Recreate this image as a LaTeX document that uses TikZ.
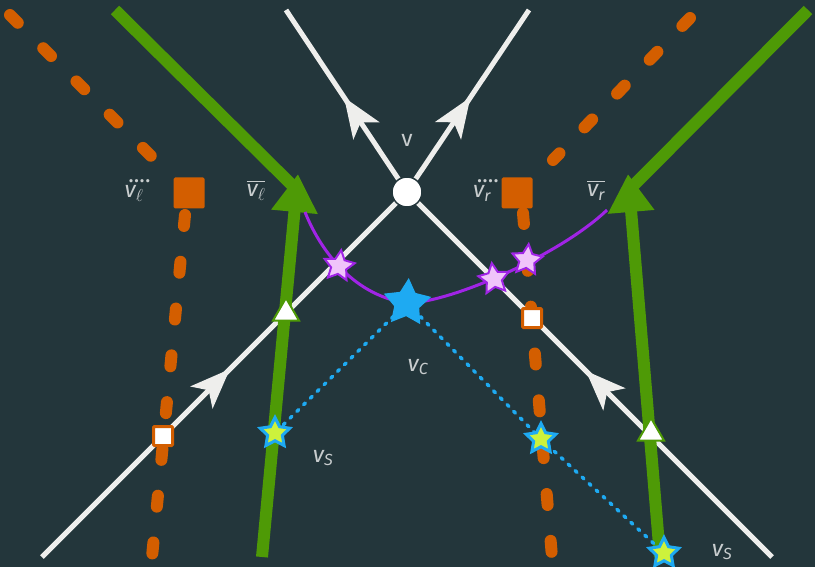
\documentclass[tikz,border=0pt]{standalone}
\usepackage{amsmath}
\usepackage{fontspec}
\setmainfont{Fira Sans}
\usetikzlibrary{arrows.meta, shapes.geometric, decorations.markings}
\definecolor{bgdark}{RGB}{35, 54, 59}
\definecolor{linewhite}{RGB}{238, 238, 236}
\definecolor{leafgreen}{RGB}{78, 154, 6}
\definecolor{burntorange}{RGB}{211, 94, 0}
\definecolor{violet}{RGB}{160, 36, 230}
\definecolor{pinkfill}{RGB}{240, 196, 250}
\definecolor{skyblue}{RGB}{30, 170, 242}
\definecolor{limefill}{RGB}{205, 242, 60}
\definecolor{labelgray}{RGB}{200, 205, 206}
\newcommand{\lv}{\text{\itshape v}}
\newcommand{\lsub}[1]{\text{\itshape #1}}
\newcommand{\qv}[1]{\rlap{$\ddddot{\phantom{\lv}}$}$\lv_{#1}$}

\begin{document}
\begin{tikzpicture}[x=1pt, y=-1pt,
    wline/.style={draw=linewhite, line width=5pt},
    flow/.style={wline, postaction={decorate},
                 decoration={markings, mark=at position #1 with
                 {\arrow{Stealth[length=40pt, width=31pt, inset=10pt]}}}},
    gline/.style={draw=leafgreen, line width=12pt},
    garrow/.style={gline, -{Triangle[length=38pt, width=44pt]}},
    oline/.style={draw=burntorange, line width=12pt, line cap=round,
                  dash pattern=on 11pt off 36pt},
    pline/.style={draw=violet, line width=3pt},
    bdots/.style={draw=skyblue, line width=3.5pt, line cap=round,
                  dash pattern=on 2.5pt off 7pt},
    vert/.style={circle, fill=white, draw=bgdark, line width=1.5pt,
                 minimum size=30pt, inner sep=0pt},
    osq/.style={rectangle, fill=burntorange, rounded corners=1.5pt,
                minimum size=31pt, inner sep=0pt},
    wsq/.style={rectangle, fill=white, draw=burntorange, line width=3pt,
                rounded corners=1pt, minimum size=19pt, inner sep=0pt},
    gtri/.style={regular polygon, regular polygon sides=3, fill=white,
                 draw=leafgreen, line width=2pt, minimum size=30pt, inner sep=0pt},
    bigstar/.style={star, star points=5, star point ratio=1.9, fill=skyblue,
                    minimum size=50pt, inner sep=0pt},
    pstar/.style={star, star points=5, star point ratio=2, fill=pinkfill,
                  draw=violet, line width=2pt, minimum size=32pt, inner sep=0pt},
    ystar/.style={star, star points=5, star point ratio=2, fill=limefill,
                  draw=skyblue, line width=3pt, minimum size=31pt, inner sep=0pt},
    lbl/.style={text=labelgray, font=\fontsize{23}{26}\selectfont, inner sep=1pt}
]

% Background
\fill[bgdark] (0,0) rectangle (815,567);
\useasboundingbox (0,0) rectangle (815,567);

% Fixed points
\coordinate (vc)   at (407,192);
\coordinate (ul)   at (286,10);
\coordinate (ur)   at (529,10);
\coordinate (ll)   at (42,557);
\coordinate (lr)   at (772,557);
\coordinate (bc)   at (407,303);

% Orange dashed lines
\coordinate (otl)  at (10,15);
\coordinate (ojl)  at (157,162);
\coordinate (ovl)  at (185,215);
\coordinate (obl)  at (152,557);
\coordinate (otr)  at (690,18);
\coordinate (ojr)  at (553,160);
\coordinate (ovr)  at (523,213);
\coordinate (obr)  at (552,557);
\draw[oline] (otl) -- (ojl);
\draw[oline] (ovl) -- (obl);
\draw[oline] (otr) -- (ojr);
\draw[oline] (ovr) -- (obr);

% White flow lines
\draw[flow=0.52] (vc) -- (ul);
\draw[flow=0.52] (vc) -- (ur);
\draw[flow=0.515] (ll) -- (vc);
\draw[flow=0.51] (lr) -- (vc);

% Green lines
\coordinate (gtl)  at (115,10);
\coordinate (gjl)  at (299,192);
\coordinate (gbl)  at (262,557);
\coordinate (gpl)  at (298,174);
\coordinate (gtr)  at (808,10);
\coordinate (gjr)  at (627,192);
\coordinate (gbr)  at (660,557);
\coordinate (gpr)  at (628,174);
\draw[gline] (gtl) -- (gjl);
\draw[gline] (gtr) -- (gjr);
\draw[garrow] (gbl) -- (gpl);
\draw[garrow] (gbr) -- (gpr);

% Purple curve
\coordinate (pl) at (305,212);
\coordinate (pr) at (607,210);
\draw[pline] (pl) .. controls (318,245) and (350,295) .. (bc)
                  .. controls (450,303) and (560,255) .. (pr);

% Blue dotted links
\coordinate (ys1) at (275,433);
\coordinate (ys2) at (541,439);
\coordinate (ys3) at (664,553);
\draw[bdots] (bc) -- (ys1);
\draw[bdots] (bc) -- (ys2) -- (ys3);

% Markers
\node[osq]  (sql) at (189,193) {};
\node[osq]  (sqr) at (517,193) {};
\node[wsq]  (wql) at (163,436) {};
\node[wsq]  (wqr) at (532,318) {};
\node[gtri] (tl)  at (286,313) {};
\node[gtri] (tr)  at (651,433) {};

% Stars
\node[ystar] (s1) at (ys1) {};
\node[ystar] (s2) at (ys2) {};
\node[ystar] (s3) at (ys3) {};
\node[pstar, rotate=-8] (p1) at (339,266) {};
\node[pstar, rotate=8]  (p2) at (494,279) {};
\node[pstar, rotate=-6] (p3) at (527,260) {};
\node[bigstar, rotate=-4] (cs) at (bc) {};

% Vertex
\node[vert] (v) at (vc) {};

% Labels
\node[lbl] (lv)  at (407,140) {v};
\node[lbl] (lql) at (134,191) {\qv{\ell}};
\node[lbl] (lol) at (256,190) {$\overline{\lv_{\ell}}$};
\node[lbl] (lqr) at (482,191) {\qv{\lsub{r}}};
\node[lbl] (lor) at (596,190) {$\overline{\lv_{\lsub{r}}}$};
\node[lbl] (lc)  at (418,367) {$\lv_{\lsub{C}}$};
\node[lbl] (ls1) at (323,458) {$\lv_{\lsub{S}}$};
\node[lbl] (ls2) at (722,552) {$\lv_{\lsub{S}}$};

\end{tikzpicture}
\end{document}
